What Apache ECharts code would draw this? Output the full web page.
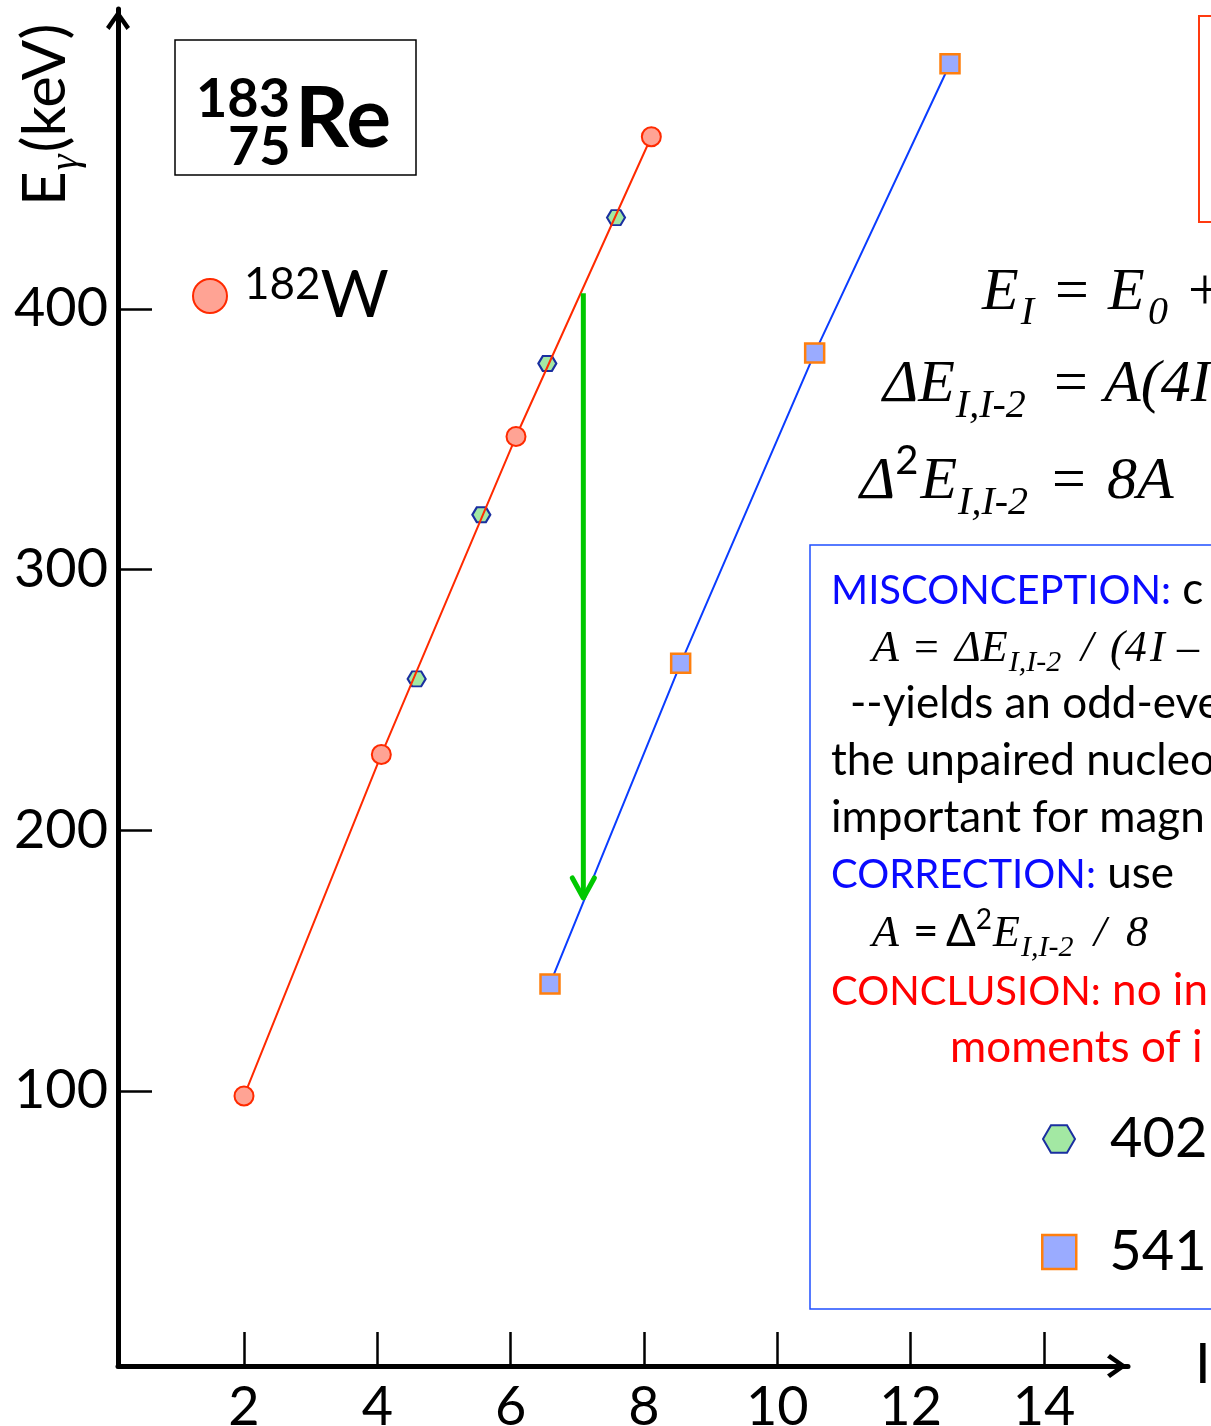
<!DOCTYPE html>
<html>
<head>
<meta charset="utf-8">
<script src="https://cdn.jsdelivr.net/npm/echarts@6/dist/echarts.min.js"></script>
<style>
  html, body { margin: 0; padding: 0; background: #fff; }
  #chart { width: 1211px; height: 1426px; }
</style>
</head>
<body>
<div id="chart"></div>
<script>
// Initial spin I_i and gamma-ray energy E_gamma (keV) for each sequence
const w182Spin = [2.00, 4.06, 6.08, 8.11];
const w182Energy = [98, 229, 351, 466];
const band402Spin = [4.59, 5.56, 6.55, 7.58];
const band402Energy = [258, 321, 379, 435];
const band541Spin = [6.59, 8.55, 10.56, 12.59];
const band541Energy = [141, 264, 383, 494];
// Downward shift arrow: spin, start energy, end energy
const shiftArrow = [[7.09, 406, 174]];
const xTicks = [2, 4, 6, 8, 10, 12, 14];
const yTicks = [100, 200, 300, 400];

const SANS = 'Lato, "Open Sans", "DejaVu Sans", sans-serif';
const SERIF = '"Liberation Serif", "DejaVu Serif", serif';
const BLUE = '#0a0aff';
const RED = '#ff0000';

const zip = (a, b) => a.map((v, i) => [v, b[i]]);

// Open chevron used as the axis arrowheads (tip pointing up in symbol space)
const chevron = 'path://M0,17 L12,0 L24,17 L20.5,20 L12,7.5 L3.5,20 Z';
// Flat-topped hexagon marker
const hexagon = 'path://M0,8.66 L5,0 L15,0 L20,8.66 L15,17.32 L5,17.32 Z';

// ---- text run helper: places pieces of text side by side on a common baseline
const mctx = document.createElement('canvas').getContext('2d');
function cssFont(p) {
  return (p.i ? 'italic ' : 'normal ') + (p.b ? 'bold ' : 'normal ') + p.s + 'px ' + (p.f === 'serif' ? SERIF : SANS);
}
function midToBaseline(font) {
  mctx.font = font;
  mctx.textBaseline = 'middle';
  return mctx.measureText('H').actualBoundingBoxDescent;
}
// pieces: t = text, s = size, f = family, i = italic, b = bold, c = colour,
// dy = baseline shift, dx = extra gap, ax = absolute x start
function textRun(x, baseline, pieces, base) {
  const out = [];
  let cx = x;
  pieces.forEach(piece => {
    const p = Object.assign({}, base, piece);
    const font = cssFont(p);
    mctx.font = font;
    const w = mctx.measureText(p.t).width;
    if (p.ax != null) cx = p.ax;
    cx += p.dx || 0;
    out.push({
      type: 'text',
      x: cx,
      y: baseline + (p.dy || 0) - midToBaseline(font),
      silent: true,
      style: {
        text: p.t,
        fontFamily: p.f === 'serif' ? SERIF : SANS,
        fontSize: p.s,
        fontStyle: p.i ? 'italic' : 'normal',
        fontWeight: p.b ? 'bold' : 'normal',
        fill: p.c || '#000',
        align: 'left',
        verticalAlign: 'middle'
      }
    });
    cx += w;
  });
  return out;
}

const capsBody = { f: 'sans', s: 40 };
const lowBody = { f: 'sans', s: 44 };
const mathBig = { f: 'serif', s: 60, i: true };
const mathBox = { f: 'serif', s: 44, i: true };

const graphics = [
  // nucleus label box
  { type: 'rect', shape: { x: 175, y: 40, width: 241, height: 135 }, style: { fill: 'none', stroke: '#000', lineWidth: 1.5 } },
  ...textRun(196, 117, [{ t: '183' }], { f: 'sans', s: 54, b: true }),
  ...textRun(228, 165, [{ t: '75' }], { f: 'sans', s: 54, b: true }),
  ...textRun(295, 147, [{ t: 'Re' }], { f: 'sans', s: 84, b: true }),

  // formulas
  ...textRun(982, 309, [
    { t: 'E' }, { t: 'I', s: 40, dy: 15, dx: 2 }, { t: '=', i: false, ax: 1055 },
    { t: 'E', ax: 1108 }, { t: '0', s: 40, dy: 15, ax: 1148 }, { t: '+', i: false, ax: 1188 }
  ], mathBig),
  ...textRun(883, 401, [
    { t: 'ΔE' }, { t: 'I,I-2', s: 40, dy: 16, dx: 1 }, { t: '=', i: false, ax: 1054 }, { t: 'A(4I', ax: 1104 }
  ], mathBig),
  ...textRun(860, 498, [
    { t: 'Δ' }, { t: '2', f: 'sans', i: false, s: 40, dy: -24 }, { t: 'E', dx: 2 },
    { t: 'I,I-2', s: 40, dy: 16, dx: 1 }, { t: '=', i: false, ax: 1052 }, { t: '8A', ax: 1107 }
  ], mathBig),

  // red frame at the top right
  { type: 'rect', shape: { x: 1199, y: 16, width: 40, height: 206 }, style: { fill: 'none', stroke: '#ff3a10', lineWidth: 2 } },

  // explanation panel
  { type: 'rect', shape: { x: 810, y: 545, width: 420, height: 764 }, style: { fill: 'none', stroke: '#1f4fff', lineWidth: 1.5 } },
  ...textRun(831, 604, [{ t: 'MISCONCEPTION:', c: BLUE }, { t: ' c', s: 44 }], capsBody),
  ...textRun(872, 661, [
    { t: 'A' }, { t: '=', i: false, ax: 914 }, { t: 'ΔE', ax: 955 }, { t: 'I,I-2', s: 30, dy: 10, dx: 1 },
    { t: '/', ax: 1081 }, { t: '(4', ax: 1110 }, { t: 'I', ax: 1150 }, { t: '–', i: false, ax: 1177 }
  ], mathBox),
  ...textRun(850, 718, [{ t: '--yields an odd-eve' }], lowBody),
  ...textRun(831, 775, [{ t: 'the unpaired nucleo' }], lowBody),
  ...textRun(831, 832, [{ t: 'important for magn' }], lowBody),
  ...textRun(831, 888, [{ t: 'CORRECTION:', c: BLUE }, { t: ' use', s: 44 }], capsBody),
  ...textRun(872, 946, [
    { t: 'A' }, { t: '=', f: 'sans', i: false, ax: 913 }, { t: 'Δ', f: 'sans', i: false, ax: 946 },
    { t: '2', f: 'sans', i: false, s: 28, dy: -17 }, { t: 'E', dx: 1 }, { t: 'I,I-2', s: 30, dy: 10, dx: 1 },
    { t: '/', ax: 1094 }, { t: '8', ax: 1126 }
  ], mathBox),
  ...textRun(831, 1005, [{ t: 'CONCLUSION:', c: RED }, { t: ' no in', c: RED, s: 44 }], capsBody),
  ...textRun(950, 1062, [{ t: 'moments of i', c: RED }], lowBody),

  // axis titles
  {
    type: 'group', x: 65, y: 206, rotation: Math.PI / 2,
    children: textRun(0, 0, [
      { t: 'E' }, { t: 'γ', f: 'serif', i: true, s: 40, dy: 12, dx: 1 }, { t: '(keV)', dx: 2 }
    ], { f: 'sans', s: 60 })
  },
  ...textRun(1195, 1383, [{ t: 'I' }, { t: 'i', s: 36, dy: 17 }], { f: 'sans', s: 56 })
];

const chart = echarts.init(document.getElementById('chart'), null, { renderer: 'canvas' });

chart.setOption({
  animation: false,
  backgroundColor: '#fff',
  textStyle: { fontFamily: SANS },
  grid: { left: 118, right: 83, top: 9, bottom: 60, containLabel: false, outerBoundsMode: 'none' },
  xAxis: {
    type: 'value',
    min: 0.11,
    max: 15.26,
    splitLine: { show: false },
    axisLine: {
      show: true,
      onZero: false,
      lineStyle: { color: '#000', width: 5 },
      symbol: ['none', chevron],
      symbolSize: [24, 22],
      symbolOffset: [0, -11]
    },
    axisTick: { show: true, inside: true, length: 34, lineStyle: { color: '#000', width: 2.5 }, customValues: xTicks },
    axisLabel: { customValues: xTicks, color: '#000', fontFamily: SANS, fontSize: 54, margin: 15 }
  },
  yAxis: {
    type: 'value',
    min: -5.56,
    max: 515.0,
    splitLine: { show: false },
    axisLine: {
      show: true,
      onZero: false,
      lineStyle: { color: '#000', width: 5 },
      symbol: ['none', chevron],
      symbolSize: [24, 22],
      symbolOffset: [0, -11]
    },
    axisTick: { show: true, inside: true, length: 34, lineStyle: { color: '#000', width: 2.5 }, customValues: yTicks },
    axisLabel: { customValues: yTicks, color: '#000', fontFamily: SANS, fontSize: 54, margin: 10 }
  },
  legend: [
    {
      data: ['182W'], left: 187, top: 258, icon: 'circle', itemWidth: 34, itemHeight: 34,
      selectedMode: false,
      itemStyle: { color: '#ffa394', borderColor: '#ff2a00', borderWidth: 2 },
      formatter: () => '{s|182}{w|W}',
      textStyle: {
        rich: {
          s: { fontFamily: SANS, fontSize: 44, color: '#000', verticalAlign: 'top', padding: [0, 0, 0, 12] },
          w: { fontFamily: SANS, fontSize: 66, color: '#000' }
        }
      }
    },
    {
      data: ['402'], left: 1037, top: 1106, icon: hexagon, itemWidth: 32, itemHeight: 28,
      selectedMode: false,
      itemStyle: { color: '#a3e8a3', borderColor: '#1a2fa0', borderWidth: 2 },
      formatter: name => '{t|' + name + '}',
      textStyle: { rich: { t: { fontFamily: SANS, fontSize: 56, color: '#000', padding: [0, 0, 0, 30] } } }
    },
    {
      data: ['541'], left: 1036, top: 1219, icon: 'rect', itemWidth: 34, itemHeight: 34,
      selectedMode: false,
      itemStyle: { color: '#9aabff', borderColor: '#ff7f0e', borderWidth: 2.5 },
      formatter: name => '{t|' + name + '}',
      textStyle: { rich: { t: { fontFamily: SANS, fontSize: 56, color: '#000', padding: [0, 0, 0, 28] } } }
    }
  ],
  series: [
    {
      name: '402',
      type: 'scatter',
      data: zip(band402Spin, band402Energy),
      symbol: hexagon,
      symbolSize: [18, 15],
      itemStyle: { color: '#a3e8a3', borderColor: '#1a2fa0', borderWidth: 2, opacity: 1 },
      z: 2
    },
    {
      name: '182W',
      type: 'line',
      data: zip(w182Spin, w182Energy),
      symbol: 'circle',
      symbolSize: 19,
      showSymbol: true,
      lineStyle: { color: '#ff2a00', width: 2 },
      itemStyle: { color: '#ffa394', borderColor: '#ff2a00', borderWidth: 2 },
      z: 3
    },
    {
      name: '541',
      type: 'line',
      data: zip(band541Spin, band541Energy),
      symbol: 'rect',
      symbolSize: 19,
      showSymbol: true,
      lineStyle: { color: '#0a3cff', width: 2 },
      itemStyle: { color: '#9aabff', borderColor: '#ff7f0e', borderWidth: 2.5 },
      z: 3
    },
    {
      name: 'shift',
      type: 'custom',
      data: shiftArrow,
      encode: { x: 0, y: [1, 2] },
      z: 4,
      renderItem: function (params, api) {
        const top = api.coord([api.value(0), api.value(1)]);
        const tip = api.coord([api.value(0), api.value(2)]);
        const green = '#00c800';
        return {
          type: 'group',
          children: [
            { type: 'line', shape: { x1: top[0], y1: top[1], x2: tip[0], y2: tip[1] - 3 },
              style: { stroke: green, lineWidth: 5, lineCap: 'butt' } },
            { type: 'polyline', shape: { points: [[tip[0] - 11, tip[1] - 20], [tip[0], tip[1]], [tip[0] + 11, tip[1] - 20]] },
              style: { stroke: green, fill: null, lineWidth: 5, lineCap: 'round', lineJoin: 'round' } }
          ]
        };
      }
    }
  ],
  graphic: graphics
});
</script>
</body>
</html>
